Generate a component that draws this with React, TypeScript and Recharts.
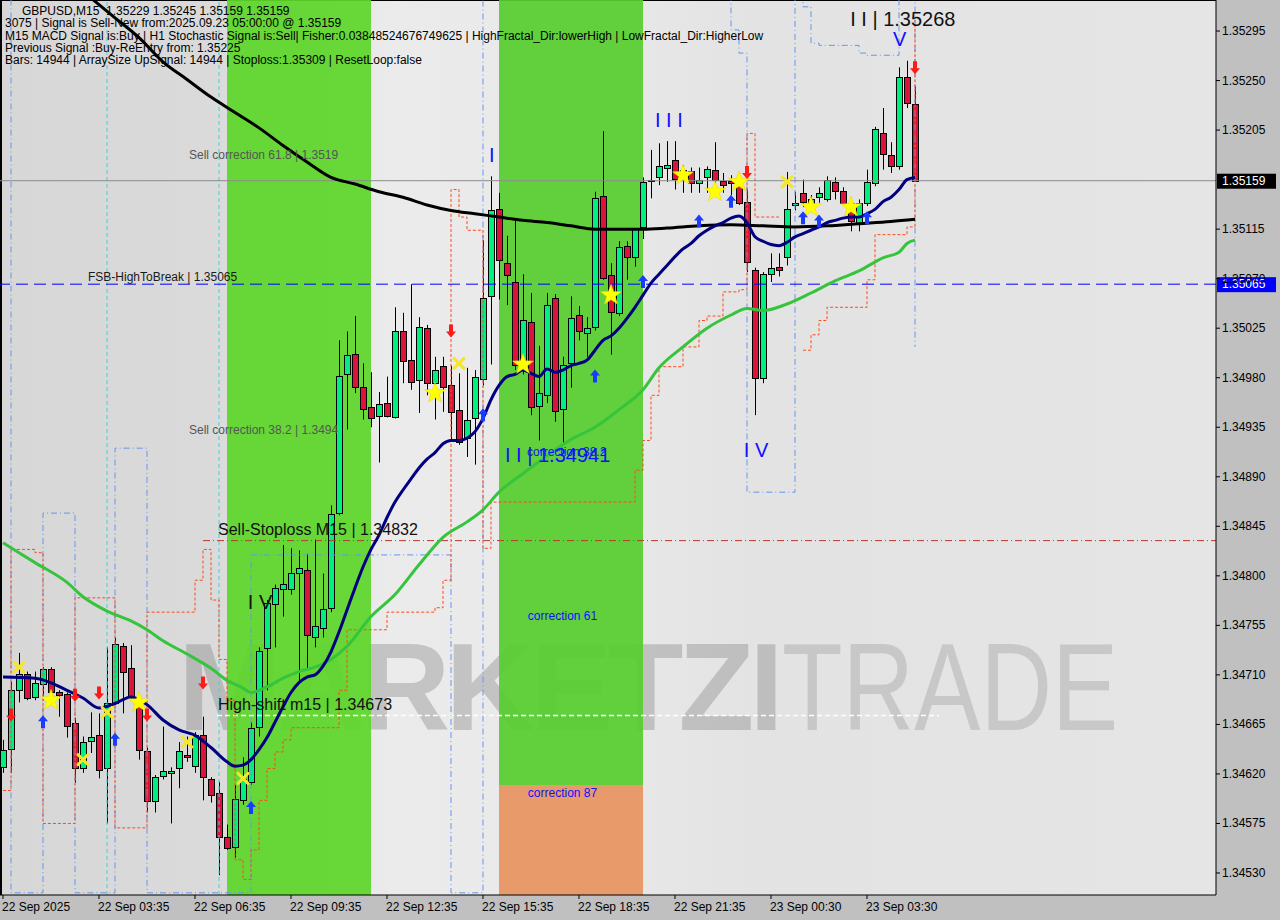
import React from "react";
import {
  ComposedChart,
  Bar,
  Line,
  Scatter,
  XAxis,
  YAxis,
  ReferenceArea,
  ReferenceLine,
  ReferenceDot,
} from "recharts";

const FONT = "'Liberation Sans', Arial, sans-serif";

// GBPUSD M15 candles
const opens = [
  1.34626, 1.34643, 1.34696, 1.34711, 1.3469, 1.34702, 1.34715, 1.34694, 1.34693, 1.34666,
  1.34625, 1.3465, 1.34655, 1.34625, 1.34684, 1.34736, 1.34716, 1.34682, 1.34641, 1.34595,
  1.34618, 1.34621, 1.34625, 1.34637, 1.34627, 1.34655, 1.34615, 1.34603, 1.34563, 1.34554,
  1.34596, 1.34613, 1.34663, 1.34734, 1.34774, 1.34788, 1.34788, 1.34803, 1.34805, 1.34744,
  1.34753, 1.34771, 1.34857, 1.34983, 1.35002, 1.34972, 1.34953, 1.34945, 1.34957, 1.34944,
  1.35022, 1.34996, 1.34978, 1.35025, 1.34975, 1.34991, 1.34973, 1.34951, 1.34925, 1.34943,
  1.34979, 1.35054, 1.35133, 1.35084, 1.35067, 1.34992, 1.35031, 1.34954, 1.34964, 1.35052,
  1.34952, 1.34993, 1.35037, 1.35021, 1.35026, 1.35145, 1.35073, 1.35039, 1.351, 1.3509,
  1.35117, 1.3516, 1.35162, 1.35171, 1.35178, 1.35169, 1.35168, 1.35157, 1.35162, 1.35169,
  1.35159, 1.35159, 1.3516, 1.3514, 1.35078, 1.3498, 1.35074, 1.35081, 1.3509, 1.35137,
  1.35148, 1.35137, 1.35144, 1.35142, 1.35158, 1.3515, 1.35139, 1.35121, 1.35139, 1.35157,
  1.35202, 1.35182, 1.35172, 1.35253, 1.35229,
];
const highs = [
  1.34651, 1.34704, 1.3473, 1.34713, 1.34713, 1.34717, 1.34717, 1.34696, 1.34694, 1.34671,
  1.34654, 1.34676, 1.34675, 1.34735, 1.34744, 1.34739, 1.34737, 1.34689, 1.34644, 1.34619,
  1.34663, 1.34626, 1.34649, 1.34654, 1.34658, 1.34672, 1.34617, 1.34613, 1.34574, 1.3461,
  1.34635, 1.34667, 1.34735, 1.34778, 1.34792, 1.34828, 1.34825, 1.34823, 1.3482, 1.34833,
  1.34802, 1.34864, 1.35014, 1.35022, 1.35036, 1.34993, 1.34985, 1.34967, 1.34981, 1.35044,
  1.35039, 1.35065, 1.35035, 1.35028, 1.34999, 1.34999, 1.34991, 1.34984, 1.34989, 1.34987,
  1.35105, 1.35163, 1.35148, 1.35109, 1.35125, 1.35074, 1.35057, 1.35009, 1.35057, 1.35056,
  1.34999, 1.35054, 1.35045, 1.35035, 1.35149, 1.35204, 1.35084, 1.35104, 1.35104, 1.35114,
  1.35162, 1.35187, 1.35193, 1.35195, 1.35195, 1.35173, 1.35171, 1.35171, 1.35172, 1.35194,
  1.35166, 1.35164, 1.35166, 1.35151, 1.3508, 1.35076, 1.35093, 1.35093, 1.35167, 1.35149,
  1.3516, 1.35146, 1.35153, 1.35163, 1.35162, 1.35153, 1.35142, 1.35142, 1.35169, 1.35208,
  1.35225, 1.35194, 1.35262, 1.35268, 1.35245,
];
const lows = [
  1.34621, 1.34621, 1.34685, 1.34687, 1.34687, 1.34687, 1.34687, 1.34672, 1.34653, 1.34612,
  1.34621, 1.34639, 1.34616, 1.34575, 1.34683, 1.34675, 1.34687, 1.34633, 1.34585, 1.34585,
  1.34615, 1.34575, 1.34607, 1.34631, 1.34621, 1.34596, 1.34594, 1.34528, 1.34551, 1.34544,
  1.34592, 1.3461, 1.34654, 1.34696, 1.34735, 1.34763, 1.34783, 1.34703, 1.34716, 1.34735,
  1.34744, 1.34767, 1.34855, 1.34933, 1.34966, 1.34942, 1.34935, 1.34903, 1.34944, 1.34943,
  1.34975, 1.34969, 1.34948, 1.34964, 1.34942, 1.34949, 1.34923, 1.34919, 1.34908, 1.34901,
  1.34973, 1.34992, 1.35051, 1.35046, 1.34987, 1.34983, 1.34946, 1.34923, 1.34957, 1.3494,
  1.34921, 1.34971, 1.35014, 1.34999, 1.35023, 1.35069, 1.35001, 1.35036, 1.35069, 1.35081,
  1.35106, 1.35143, 1.35155, 1.35158, 1.35151, 1.35148, 1.35148, 1.35148, 1.35148, 1.35148,
  1.35148, 1.35146, 1.35137, 1.35076, 1.34946, 1.34975, 1.35067, 1.35072, 1.35082, 1.35132,
  1.35135, 1.35131, 1.35139, 1.3514, 1.35142, 1.35136, 1.35113, 1.35113, 1.35136, 1.35154,
  1.35169, 1.35166, 1.35169, 1.35225, 1.35159,
];
const closes = [
  1.34642, 1.34696, 1.34711, 1.34689, 1.34703, 1.34715, 1.34694, 1.34692, 1.34664, 1.34625,
  1.34649, 1.34654, 1.34624, 1.34684, 1.34738, 1.34713, 1.3469, 1.34642, 1.34595, 1.34617,
  1.34623, 1.34623, 1.34641, 1.34635, 1.34655, 1.34617, 1.34601, 1.34563, 1.34553, 1.34597,
  1.34615, 1.34662, 1.34732, 1.34775, 1.34789, 1.34793, 1.34803, 1.34807, 1.34746, 1.34754,
  1.3477, 1.34856, 1.34982, 1.35001, 1.34972, 1.34952, 1.34943, 1.34956, 1.34945, 1.35022,
  1.34995, 1.34976, 1.35026, 1.34975, 1.34987, 1.34972, 1.34949, 1.34922, 1.34942, 1.34981,
  1.35052, 1.35132, 1.35087, 1.35073, 1.34992, 1.35032, 1.34953, 1.34966, 1.35046, 1.3495,
  1.34992, 1.35034, 1.35022, 1.35025, 1.35143, 1.35071, 1.3504, 1.35099, 1.3509, 1.35115,
  1.35158, 1.35159, 1.35172, 1.35173, 1.35161, 1.35162, 1.35157, 1.3516, 1.3517, 1.3516,
  1.35155, 1.35157, 1.35139, 1.35085, 1.3498, 1.35074, 1.3508, 1.35078, 1.35133, 1.35139,
  1.3514, 1.35142, 1.35148, 1.3516, 1.3515, 1.35139, 1.35122, 1.35139, 1.35158, 1.35206,
  1.35183, 1.35172, 1.35253, 1.3523, 1.35159,
];

// fast MA (navy), one value per bar where it could be read
const fastMa = [
  1.34708, null, null, null, 1.34707, null, null, null, 1.34696, null,
  1.34689, null, 1.3468, null, 1.34684, null, 1.3469, null, 1.34683, null,
  1.34669, null, 1.3466, null, 1.34655, null, 1.34644, null, 1.34631, 1.34627,
  1.34628, 1.34633, 1.34642, 1.34653, 1.34667, 1.34681, 1.34694, 1.34703, 1.34708, 1.3471,
  1.34718, 1.34731, 1.34749, 1.34769, 1.34789, 1.34808, 1.34824, 1.34837, 1.34853, 1.34867,
  1.34878, 1.34888, 1.34898, 1.34906, 1.34912, 1.3492, 1.34923, 1.34923, 1.34925, 1.34931,
  1.34943, 1.3496, 1.34973, 1.34981, 1.34983, 1.34987, 1.34984, 1.34981, 1.34988, 1.34985,
  1.34987, 1.34991, 1.34993, 1.34996, 1.35005, 1.35014, 1.35018, 1.35025, 1.35034, 1.35044,
  1.35055, 1.35066, 1.35074, 1.35082, 1.3509, 1.35097, 1.35102, 1.35109, 1.35114, 1.35118,
  1.35121, 1.35125, 1.35127, 1.35121, 1.35108, 1.35104, 1.35101, 1.351, 1.35103, 1.35108,
  1.35111, 1.35114, 1.35117, 1.35121, 1.35123, 1.35125, 1.35126, 1.35126, 1.35129, 1.35133,
  1.3514, 1.35144, 1.35151, 1.3516, 1.35162,
];

// slow MA (black) and middle MA (green) as [bar, price]
const slowMa: [number, number][] = [
  [11, 1.35325], [14, 1.35307], [17, 1.35289], [20, 1.35267], [23, 1.35251], [26, 1.35235],
  [29, 1.35221], [32, 1.35207], [35, 1.35191], [38, 1.35176], [41, 1.35162], [44, 1.35156],
  [47, 1.35149], [50, 1.35144], [53, 1.35137], [56, 1.35132], [59, 1.35129], [62, 1.35126],
  [65, 1.35123], [68, 1.35121], [71, 1.35118], [74, 1.35115], [77, 1.35115], [80, 1.35115],
  [83, 1.35116], [87, 1.35118], [91, 1.35119], [95, 1.35118], [99, 1.35117], [103, 1.35118],
  [107, 1.3512], [111, 1.35122], [114, 1.35124],
];
const midMa: [number, number][] = [
  [0, 1.3483], [4, 1.34812], [8, 1.34794], [10, 1.34781], [13, 1.34768], [16, 1.34759],
  [18, 1.34751], [20, 1.34741], [23, 1.34729], [26, 1.34716], [28, 1.34705], [30, 1.34698],
  [31, 1.34694], [33, 1.34699], [35, 1.34707], [37, 1.34713], [39, 1.34717], [41, 1.34724],
  [43, 1.34736], [46, 1.34763], [49, 1.34783], [52, 1.3481], [55, 1.34835], [58, 1.34849],
  [60, 1.3486], [62, 1.34876], [65, 1.34893], [68, 1.34909], [71, 1.34924], [74, 1.34935],
  [77, 1.34951], [80, 1.34969], [82, 1.34989], [85, 1.35008], [88, 1.35025], [91, 1.35037],
  [93, 1.35043], [95, 1.35041], [98, 1.35047], [101, 1.35057], [104, 1.35068], [107, 1.35077],
  [110, 1.35089], [112, 1.35094], [113, 1.35102], [114, 1.35105],
];

// dashed channel lines (orange = step envelope, blue = dash-dot envelope)
const orangeA: [number, number][] = [
  [0, 1.34605], [1, 1.34824], [4, 1.34821], [5, 1.34575], [8, 1.34575], [9, 1.3478],
  [13, 1.3478], [14, 1.34571], [17, 1.34571], [18, 1.34767], [23, 1.34767], [24, 1.34796],
  [25, 1.34824], [26, 1.34778], [27, 1.34724], [28, 1.34687], [29, 1.34542], [30, 1.34524],
  [31, 1.34551], [32, 1.34596], [33, 1.34625], [34, 1.3464], [35, 1.34651], [36, 1.34662],
  [41, 1.34662], [42, 1.34696], [43, 1.34751], [47, 1.34751], [48, 1.34767], [54, 1.34771],
  [55, 1.34796], [56, 1.35151], [57, 1.35126], [58, 1.35114], [59, 1.35114], [60, 1.34825],
  [61, 1.34867], [78, 1.34867], [79, 1.34896], [80, 1.34923], [81, 1.34964], [82, 1.3499],
  [85, 1.35008], [87, 1.35032], [88, 1.35036], [90, 1.35058], [92, 1.3506], [93, 1.35202],
  [94, 1.35126], [97, 1.35126],
];
const orangeB: [number, number][] = [
  [100, 1.35005], [101, 1.35019], [102, 1.35032], [103, 1.35044], [107, 1.35044],
  [108, 1.35069], [109, 1.3511], [112, 1.3511], [113, 1.35117], [114, 1.35305],
];
const blueBand: [number, number][] = [
  [0, 1.3534], [1, 1.34512], [4, 1.34512], [5, 1.34857], [8, 1.34857], [9, 1.34512],
  [13, 1.34512], [14, 1.34916], [17, 1.34916], [18, 1.34512], [30, 1.34512], [31, 1.34819],
  [55, 1.34819], [56, 1.34512], [59, 1.34512], [60, 1.3534], [90, 1.3534], [91, 1.35296],
  [92, 1.35275], [93, 1.34876], [98, 1.34876], [99, 1.3534], [100, 1.35317], [101, 1.35284],
  [102, 1.35282], [107, 1.35275], [108, 1.35273], [111, 1.35273], [112, 1.3534], [113, 1.3534],
  [114, 1.35008],
];

// signal markers as [bar, price]
const sellArrows: [number, number][] = [
  [1, 1.34674], [9, 1.34692], [12, 1.34694], [18, 1.34674], [25, 1.34703], [56, 1.35023],
  [93, 1.35167], [114, 1.35262],
];
const buyArrows: [number, number][] = [
  [5, 1.34667], [14, 1.34651], [31, 1.34589], [60, 1.34946], [74, 1.34981], [80, 1.35067],
  [87, 1.35122], [91, 1.3514], [100, 1.35125], [102, 1.35122], [108, 1.35125],
];
const stars: [number, number][] = [
  [6, 1.34687], [17, 1.34685], [54, 1.34966], [65, 1.34992], [76, 1.35055], [85, 1.35164],
  [89, 1.35149], [92, 1.35158], [101, 1.35135], [106, 1.35135],
];
const crosses: [number, number][] = [
  [2, 1.34717], [10, 1.34633], [13, 1.34676], [23, 1.34649], [30, 1.34616], [57, 1.34993],
  [98, 1.35158],
];

const tickBars = [0, 12, 24, 36, 48, 60, 72, 84, 96, 108];
const tickLabels = [
  "22 Sep 2025", "22 Sep 03:35", "22 Sep 06:35", "22 Sep 09:35", "22 Sep 12:35",
  "22 Sep 15:35", "22 Sep 18:35", "22 Sep 21:35", "23 Sep 00:30", "23 Sep 03:30",
];
const priceTicks = [
  1.35295, 1.3525, 1.35205, 1.35115, 1.3507, 1.35025, 1.3498, 1.34935, 1.3489, 1.34845,
  1.348, 1.34755, 1.3471, 1.34665, 1.3462, 1.34575, 1.3453,
];

const headerLines = [
  "GBPUSD,M15  1.35229 1.35245 1.35159 1.35159",
  "3075 | Signal is Sell-New from:2025.09.23 05:00:00 @ 1.35159",
  "M15 MACD Signal is:Buy | H1 Stochastic Signal is:Sell| Fisher:0.03848524676749625 | HighFractal_Dir:lowerHigh | LowFractal_Dir:HigherLow",
  "Previous Signal :Buy-ReEntry from: 1.35225",
  "Bars: 14944 | ArraySize UpSignal: 14944 | Stoploss:1.35309 | ResetLoop:false",
];

const BLUE = "#1010ff";
const notes = [
  { text: "Sell correction 61.8 | 1.3519", bar: 23.25, price: 1.35179, size: 12, color: "#555" },
  { text: "FSB-HighToBreak | 1.35065", bar: 10.625, price: 1.35068, size: 12, color: "#1a1a1a" },
  { text: "Sell correction 38.2 | 1.3494", bar: 23.25, price: 1.34929, size: 12, color: "#555" },
  { text: "Sell-Stoploss M15 | 1.34832", bar: 26.875, price: 1.34837, size: 16, color: "#111" },
  { text: "High-shift m15 | 1.34673", bar: 26.875, price: 1.34678, size: 16, color: "#111" },
  { text: "I V", bar: 30.6, price: 1.3477, size: 20, color: "#111" },
  { text: "I", bar: 60.75, price: 1.35176, size: 20, color: BLUE },
  { text: "I I I", bar: 81.5, price: 1.35208, size: 20, color: BLUE },
  { text: "I I | 1.34941", bar: 62.75, price: 1.34903, size: 20, color: BLUE },
  { text: "correction 38.2", bar: 65.5, price: 1.34909, size: 12, color: BLUE },
  { text: "correction 61", bar: 65.6, price: 1.3476, size: 12, color: BLUE },
  { text: "correction 87", bar: 65.6, price: 1.34599, size: 12, color: BLUE },
  { text: "I V", bar: 92.6, price: 1.34908, size: 20, color: BLUE },
  { text: "V", bar: 111.25, price: 1.35281, size: 20, color: BLUE },
  { text: "I I | 1.35268", bar: 105.9, price: 1.353, size: 20, color: "#111" },
];

const SLOTS = 152;
const PRICE_TOP = 1.353232;
const PRICE_BOTTOM = 1.3451;

const rows = Array.from({ length: SLOTS }, (_, s) => {
  const has = s < opens.length;
  return {
    slot: s,
    range: has ? [lows[s], highs[s]] : null,
    o: has ? opens[s] : null,
    h: has ? highs[s] : null,
    l: has ? lows[s] : null,
    c: has ? closes[s] : null,
  };
});

const toPoints = (list: [number, number][]) => list.map(([slot, p]) => ({ slot, p }));
const fastPoints = fastMa
  .map((p, slot) => ({ slot, p }))
  .filter((d) => d.p != null);

const Candle = (props: any) => {
  const { x, y, width, height, payload } = props;
  if (!payload || payload.o == null) return null;
  const { o, h, l, c } = payload;
  const top = Math.min(y, y + height);
  const hgt = Math.abs(height);
  const py = (v: number) => top + ((h - v) / (h - l || 1)) * hgt;
  const cx = Math.round(x + width / 2) + 0.5;
  const bTop = Math.round(py(Math.max(o, c))) + 0.5;
  const bBot = Math.round(py(Math.min(o, c))) + 0.5;
  const up = c >= o;
  return (
    <g>
      <line x1={cx} x2={cx} y1={top} y2={top + hgt} stroke="#000" strokeWidth={1} />
      {bBot - bTop < 1 ? (
        <line x1={cx - 3} x2={cx + 3} y1={bTop} y2={bTop} stroke="#000" strokeWidth={1} />
      ) : (
        <rect
          x={cx - 3}
          y={bTop}
          width={6}
          height={bBot - bTop}
          fill={up ? "#00f080" : "#dc143c"}
          stroke="#000"
          strokeWidth={1}
        />
      )}
    </g>
  );
};

const UpArrow = ({ cx, cy }: any) =>
  cx == null ? null : (
    <path
      d={`M${cx},${cy - 7} L${cx + 5},${cy - 1} L${cx + 2},${cy - 1} L${cx + 2},${cy + 6} L${cx - 2},${cy + 6} L${cx - 2},${cy - 1} L${cx - 5},${cy - 1} Z`}
      fill="#1a3cff"
    />
  );

const DownArrow = ({ cx, cy }: any) =>
  cx == null ? null : (
    <path
      d={`M${cx},${cy + 7} L${cx + 5},${cy + 1} L${cx + 2},${cy + 1} L${cx + 2},${cy - 6} L${cx - 2},${cy - 6} L${cx - 2},${cy + 1} L${cx - 5},${cy + 1} Z`}
      fill="#ff1a1a"
    />
  );

const Star = ({ cx, cy }: any) => {
  if (cx == null) return null;
  const pts: string[] = [];
  for (let k = 0; k < 10; k++) {
    const r = k % 2 === 0 ? 11 : 4.5;
    const a = -Math.PI / 2 + (k * Math.PI) / 5;
    pts.push(`${cx + r * Math.cos(a)},${cy + r * Math.sin(a)}`);
  }
  return <polygon points={pts.join(" ")} fill="#ffff00" stroke="#e6d200" strokeWidth={0.5} />;
};

const Cross = ({ cx, cy }: any) =>
  cx == null ? null : (
    <g stroke="#f5e62a" strokeWidth={3} strokeLinecap="round">
      <line x1={cx - 5} y1={cy - 5} x2={cx + 5} y2={cy + 5} />
      <line x1={cx - 5} y1={cy + 5} x2={cx + 5} y2={cy - 5} />
    </g>
  );

const XTick = ({ x, y, payload }: any) => {
  const k = tickBars.indexOf(payload.value);
  return (
    <text x={x - 1} y={y + 10} fontSize={12} fontFamily={FONT} fill="#000" textAnchor="start">
      {tickLabels[k]}
    </text>
  );
};

const YTick = ({ y, payload }: any) => (
  <text x={1222} y={y + 4} fontSize={12} fontFamily={FONT} fill="#000" textAnchor="start">
    {payload.value.toFixed(5)}
  </text>
);

const priceBox = (value: string, bg: string) => (props: any) => {
  const vb = props.viewBox || {};
  const yy = vb.y ?? 0;
  return (
    <g>
      <rect x={1217} y={yy - 7} width={59} height={15} fill={bg} />
      <text x={1222} y={yy + 4} fontSize={12} fontFamily={FONT} fill="#fff">
        {value}
      </text>
    </g>
  );
};

const lineProps = {
  dot: false,
  activeDot: false,
  isAnimationActive: false,
} as const;

export default function App() {
  return (
    <div
      style={{
        position: "absolute",
        left: 0,
        top: 0,
        width: 1280,
        height: 920,
        background: "#c0c0c0",
        overflow: "hidden",
      }}
    >
      {/* plot background + watermark underlay */}
      <div
        style={{
          position: "absolute",
          left: 0,
          top: 0,
          width: 1216,
          height: 895,
          background:
            "linear-gradient(90deg, #d7d7d7 0%, #dadada 17%, #ebebeb 32%, #e9e9e9 48%, #e3e3e3 62%, #e5e5e5 100%)",
          borderLeft: "2px solid #000",
          borderTop: "1px solid #000",
          boxSizing: "border-box",
        }}
      />
      <div
        style={{
          position: "absolute",
          left: 178,
          top: 622,
          fontFamily: FONT,
          fontWeight: 700,
          fontSize: 124,
          letterSpacing: -5,
          color: "rgba(120,120,120,0.34)",
          lineHeight: "130px",
          whiteSpace: "nowrap",
        }}
      >
        MARKETZI
      </div>
      <div
        style={{
          position: "absolute",
          left: 782,
          top: 622,
          fontFamily: FONT,
          fontSize: 124,
          color: "rgba(150,150,150,0.36)",
          lineHeight: "130px",
          transform: "scaleX(0.8)",
          transformOrigin: "left top",
          whiteSpace: "nowrap",
        }}
      >
        TRADE
      </div>

      <div style={{ position: "absolute", left: 0, top: 0 }}>
        <ComposedChart
          width={1280}
          height={920}
          data={rows}
          margin={{ top: 0, right: 0, bottom: 0, left: 0 }}
        >
          <XAxis
            dataKey="slot"
            type="number"
            domain={[-0.375, 151.625]}
            allowDataOverflow
            ticks={tickBars}
            interval={0}
            tick={<XTick />}
            tickSize={4}
            tickLine={{ stroke: "#000" }}
            axisLine={{ stroke: "#000" }}
            height={25}
          />
          <YAxis
            orientation="right"
            type="number"
            domain={[PRICE_BOTTOM, PRICE_TOP]}
            allowDataOverflow
            ticks={priceTicks}
            interval={0}
            tick={<YTick />}
            tickSize={4}
            tickLine={{ stroke: "#000" }}
            axisLine={{ stroke: "#000" }}
            width={64}
          />

          <ReferenceArea
            x1={28}
            x2={46}
            y1={PRICE_BOTTOM}
            y2={PRICE_TOP}
            fill="#5cd62a"
            fillOpacity={0.93}
            strokeWidth={0}
          />
          <ReferenceArea
            x1={62}
            x2={80}
            y1={1.3461}
            y2={PRICE_TOP}
            fill="#56cd2e"
            fillOpacity={0.93}
            strokeWidth={0}
          />
          <ReferenceArea
            x1={62}
            x2={80}
            y1={PRICE_BOTTOM}
            y2={1.3461}
            fill="#e89a6a"
            fillOpacity={1}
            strokeWidth={0}
          />

          <ReferenceLine x={13} stroke="#3fd3d3" strokeDasharray="4 3" />
          <ReferenceLine x={27} stroke="#3fd3d3" strokeDasharray="4 3" />

          <ReferenceLine
            segment={[
              { x: 25, y: 1.34832 },
              { x: 151.625, y: 1.34832 },
            ]}
            stroke="#b83a2a"
            strokeDasharray="7 3 1 3"
          />
          <ReferenceLine
            segment={[
              { x: 26.75, y: 1.34673 },
              { x: 117, y: 1.34673 },
            ]}
            stroke="#ffffff"
            strokeWidth={1.5}
            strokeDasharray="5 3"
          />

          <Line
            data={toPoints(blueBand)}
            dataKey="p"
            type="stepAfter"
            stroke="#6495ed"
            strokeWidth={1}
            strokeDasharray="6 3 1 3"
            {...lineProps}
          />
          <Line
            data={toPoints(orangeA)}
            dataKey="p"
            type="stepAfter"
            stroke="#ff4a1a"
            strokeWidth={1}
            strokeDasharray="3 2"
            {...lineProps}
          />
          <Line
            data={toPoints(orangeB)}
            dataKey="p"
            type="stepAfter"
            stroke="#ff4a1a"
            strokeWidth={1}
            strokeDasharray="3 2"
            {...lineProps}
          />

          <ReferenceLine y={1.35159} stroke="#8c8c8c" label={priceBox("1.35159", "#000")} />
          <ReferenceLine
            y={1.35065}
            stroke="#0000ff"
            strokeDasharray="12 6"
            label={priceBox("1.35065", "#0000ff")}
          />

          <Line data={toPoints(midMa)} dataKey="p" type="monotone" stroke="#36c43c" strokeWidth={3} {...lineProps} />
          <Line data={toPoints(slowMa)} dataKey="p" type="monotone" stroke="#000" strokeWidth={3} {...lineProps} />

          <Bar dataKey="range" barSize={6} shape={(p: any) => <Candle {...p} />} isAnimationActive={false} />

          <Line data={fastPoints} dataKey="p" type="monotone" stroke="#000080" strokeWidth={3} {...lineProps} />

          <Scatter data={toPoints(crosses)} dataKey="p" shape={(p: any) => <Cross {...p} />} isAnimationActive={false} />
          <Scatter data={toPoints(stars)} dataKey="p" shape={(p: any) => <Star {...p} />} isAnimationActive={false} />
          <Scatter data={toPoints(buyArrows)} dataKey="p" shape={(p: any) => <UpArrow {...p} />} isAnimationActive={false} />
          <Scatter data={toPoints(sellArrows)} dataKey="p" shape={(p: any) => <DownArrow {...p} />} isAnimationActive={false} />

          {notes.map((n, k) => (
            <ReferenceDot
              key={k}
              x={n.bar}
              y={n.price}
              r={0}
              ifOverflow="visible"
              shape={(p: any) => (
                <text x={p.cx} y={p.cy} fontSize={n.size} fontFamily={FONT} fill={n.color}>
                  {n.text}
                </text>
              )}
            />
          ))}
        </ComposedChart>
      </div>

      <div
        style={{
          position: "absolute",
          left: 5,
          top: 5,
          fontFamily: FONT,
          fontSize: 12,
          lineHeight: "12.3px",
          color: "#000",
          whiteSpace: "pre",
          pointerEvents: "none",
        }}
      >
        {headerLines.map((t, k) => (
          <div key={k} style={{ paddingLeft: k === 0 ? 17 : 0 }}>
            {t}
          </div>
        ))}
      </div>
    </div>
  );
}
